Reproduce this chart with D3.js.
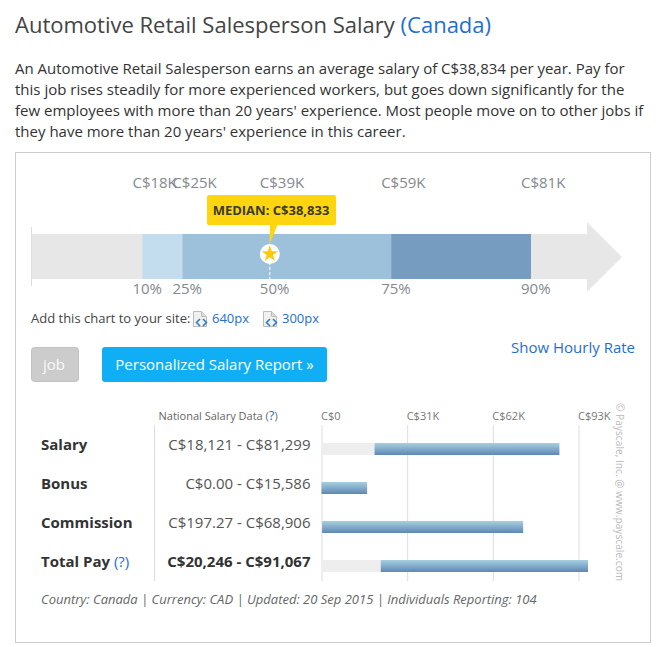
<!DOCTYPE html>
<html>
<head>
<meta charset="utf-8">
<script src="https://cdn.jsdelivr.net/npm/d3@7"></script>
<style>
    html, body { margin: 0; padding: 0; background: #fff; }
    svg { display: block; }
    text { font-family: "Open Sans", sans-serif; }
    .link { fill: #1f6fcf; }
</style>
</head>
<body>
<div id="chart"></div>
<script>

// range chart
var percentiles = ["10%", "25%", "50%", "75%", "90%"];
var percentile_values = [18121, 24618, 38833, 58563, 81299];
var percentile_labels = ["C$18K", "C$25K", "C$39K", "C$59K", "C$81K"];
var segment_colors = ["#c3ddef", "#9dc1db", "#9dc1db", "#769dbf"];

// table chart
var rows = ["Salary", "Bonus", "Commission", "Total Pay"];
var low_values = [18121, 0, 197.27, 20246];
var high_values = [81299, 15586, 68906, 91067];
var range_labels = ["C$18,121 - C$81,299", "C$0.00 - C$15,586", "C$197.27 - C$68,906", "C$20,246 - C$91,067"];
var axis_ticks = [0, 31000, 62000, 93000];

var intro_lines = [
    "An Automotive Retail Salesperson earns an average salary of C$38,834 per year. Pay for",
    "this job rises steadily for more experienced workers, but goes down significantly for the",
    "few employees with more than 20 years' experience. Most people move on to other jobs if",
    "they have more than 20 years' experience in this career."
];

const width = 663, height = 647;

const svg = d3.select("#chart")
    .append("svg")
    .attr("width", width)
    .attr("height", height);

var grad = svg.append("defs").append("linearGradient")
    .attr("id", "bar-grad")
    .attr("x1", 0).attr("x2", 0).attr("y1", 0).attr("y2", 1);
grad.append("stop").attr("offset", "0%").attr("stop-color", "#a6d0e1");
grad.append("stop").attr("offset", "100%").attr("stop-color", "#5f87b4");

// heading
var title = svg.append("text")
    .attr("x", 15).attr("y", 33)
    .style("font-size", "22px")
    .style("fill", "#444");
title.append("tspan").text("Automotive Retail Salesperson Salary ");
title.append("tspan").attr("class", "link").text("(Canada)");

svg.selectAll("text.intro")
    .data(intro_lines)
    .enter()
    .append("text")
    .attr("class", "intro")
    .attr("x", 15)
    .attr("y", function (d, i) { return 73.5 + i * 21.1; })
    .style("font-size", "15px")
    .style("fill", "#333")
    .text(function (d) { return d; });

svg.append("rect")
    .attr("x", 15.5).attr("y", 152.5)
    .attr("width", 635).attr("height", 490)
    .style("fill", "none")
    .style("stroke", "#ccc");

// range chart
var xRange = d3.scaleLinear().domain([0, 100000]).range([31, 646]);
const bar_top = 234, bar_bottom = 279;

var shaft_end = xRange(90400), tip = xRange(96100);
svg.append("path")
    .attr("d", d3.line()([
        [xRange(0), bar_top], [shaft_end, bar_top], [shaft_end, 222], [tip, 257],
        [shaft_end, 292], [shaft_end, bar_bottom], [xRange(0), bar_bottom]
    ]))
    .style("fill", "#e7e7e7");

svg.append("line")
    .attr("x1", xRange(0) + 0.5).attr("x2", xRange(0) + 0.5)
    .attr("y1", 227).attr("y2", 286)
    .style("stroke", "#ddd");

svg.selectAll("rect.segment")
    .data(segment_colors)
    .enter()
    .append("rect")
    .attr("class", "segment")
    .attr("x", function (d, i) { return xRange(percentile_values[i]); })
    .attr("y", bar_top)
    .attr("width", function (d, i) { return xRange(percentile_values[i + 1]) - xRange(percentile_values[i]); })
    .attr("height", bar_bottom - bar_top)
    .style("fill", function (d) { return d; });

svg.selectAll("text.pct-value")
    .data(percentile_labels)
    .enter()
    .append("text")
    .attr("class", "pct-value")
    .attr("x", function (d, i) { return xRange(percentile_values[i]) - 10; })
    .attr("y", 188)
    .style("font-size", "15px")
    .style("fill", "#85898f")
    .text(function (d) { return d; });

svg.selectAll("text.pct-label")
    .data(percentiles)
    .enter()
    .append("text")
    .attr("class", "pct-label")
    .attr("x", function (d, i) { return xRange(percentile_values[i]) - 10; })
    .attr("y", 294)
    .style("font-size", "15px")
    .style("fill", "#85898f")
    .text(function (d) { return d; });

// median marker
var median_x = xRange(percentile_values[2]);

svg.append("line")
    .attr("x1", median_x).attr("x2", median_x)
    .attr("y1", 262).attr("y2", 279)
    .style("stroke", "#fff")
    .style("stroke-dasharray", "3,2");

svg.append("rect")
    .attr("x", 207).attr("y", 195)
    .attr("width", 129).attr("height", 30)
    .attr("rx", 2)
    .style("fill", "#ffd510");

svg.append("path")
    .attr("d", d3.line()([[median_x, 224], [median_x + 8, 224], [median_x, 244]]))
    .style("fill", "#ffd510");

svg.append("text")
    .attr("x", 271).attr("y", 215)
    .attr("text-anchor", "middle")
    .style("font-size", "13px")
    .style("font-weight", "700")
    .style("fill", "#3b3b2a")
    .text("MEDIAN: C$38,833");

svg.append("circle")
    .attr("cx", median_x).attr("cy", 254)
    .attr("r", 10)
    .style("fill", "#fff");

svg.append("path")
    .attr("transform", "translate(" + median_x + ",254)")
    .attr("d", d3.symbol(d3.symbolStar).size(85)())
    .style("fill", "#ffc90b");

// embed links
svg.append("text")
    .attr("x", 31).attr("y", 323)
    .style("font-size", "13px")
    .style("fill", "#444")
    .text("Add this chart to your site:");

[[193, "640px"], [263, "300px"]].forEach(function (d) {
    var g = svg.append("g").attr("transform", "translate(" + d[0] + ",311)");
    g.append("path")
        .attr("d", "M0.5,0.5H8.5L13.5,5.5V15.5H0.5Z")
        .style("fill", "#f1f1f1")
        .style("stroke", "#bbb");
    g.append("path")
        .attr("d", "M8.5,0.5V5.5H13.5")
        .style("fill", "#ddd")
        .style("stroke", "#bbb");
    g.append("path")
        .attr("d", "M7,8L3.5,11.5L7,15M10,8L13.5,11.5L10,15")
        .style("fill", "none")
        .style("stroke", "#2a7fc8")
        .style("stroke-width", 1.6);
    svg.append("text")
        .attr("class", "link")
        .attr("x", d[0] + 19).attr("y", 323)
        .style("font-size", "13px")
        .text(d[1]);
});

// buttons
svg.append("rect")
    .attr("x", 31.5).attr("y", 347.5)
    .attr("width", 47).attr("height", 34)
    .attr("rx", 3)
    .style("fill", "#ccc")
    .style("stroke", "#c2c2c2");

svg.append("text")
    .attr("x", 54).attr("y", 370)
    .attr("text-anchor", "middle")
    .style("font-size", "15px")
    .style("fill", "#fafafa")
    .text("job");

svg.append("rect")
    .attr("x", 102).attr("y", 347)
    .attr("width", 225).attr("height", 35)
    .attr("rx", 3)
    .style("fill", "#10aff5");

svg.append("text")
    .attr("x", 214.5).attr("y", 370)
    .attr("text-anchor", "middle")
    .style("font-size", "15px")
    .style("fill", "#fff")
    .text("Personalized Salary Report »");

svg.append("text")
    .attr("class", "link")
    .attr("x", 635).attr("y", 353)
    .attr("text-anchor", "end")
    .style("font-size", "15px")
    .text("Show Hourly Rate");

// table chart
var yRow = d3.scaleBand()
    .domain(rows)
    .range([443, 572])
    .paddingInner(27 / 39)
    .paddingOuter(0);

var xBar = d3.scaleLinear().domain([0, 91067]).range([321.5, 588]);
var xAxis = d3.scaleLinear().domain([0, 93000]).range([321.5, 578.5]);

svg.append("text")
    .attr("x", 158.5).attr("y", 419.5)
    .style("font-size", "11px")
    .style("fill", "#666")
    .html('National Salary Data (<tspan class="link" style="font-size:13px">?</tspan>)');

svg.append("line")
    .attr("x1", 154.5).attr("x2", 154.5)
    .attr("y1", 425).attr("y2", 581)
    .style("stroke", "#ddd");

var axis_g = svg.append("g")
    .attr("transform", "translate(0,425)")
    .call(d3.axisTop(xAxis)
        .tickValues(axis_ticks)
        .tickSize(-156)
        .tickFormat(function (d) { return d === 0 ? "C$0" : "C$" + (d / 1000) + "K"; }));

axis_g.select(".domain").remove();
axis_g.selectAll(".tick line").style("stroke", "#ddd");
axis_g.selectAll(".tick text")
    .attr("x", -1)
    .attr("y", -5)
    .attr("dy", 0)
    .attr("text-anchor", "start")
    .style("font-family", '"Open Sans", sans-serif')
    .style("font-size", "11px")
    .style("fill", "#777");

svg.selectAll("rect.track")
    .data(rows)
    .enter()
    .append("rect")
    .attr("class", "track")
    .attr("x", xBar(0))
    .attr("y", function (d) { return yRow(d); })
    .attr("width", function (d, i) { return xBar(low_values[i]) - xBar(0); })
    .attr("height", yRow.bandwidth())
    .style("fill", "#eeeeee");

svg.selectAll("rect.range")
    .data(rows)
    .enter()
    .append("rect")
    .attr("class", "range")
    .attr("x", function (d, i) { return xBar(low_values[i]); })
    .attr("y", function (d) { return yRow(d); })
    .attr("width", function (d, i) { return xBar(high_values[i]) - xBar(low_values[i]); })
    .attr("height", yRow.bandwidth())
    .style("fill", "url(#bar-grad)");

var row_text = svg.selectAll("text.row-name")
    .data(rows)
    .enter()
    .append("text")
    .attr("class", "row-name")
    .attr("x", 41)
    .attr("y", function (d) { return yRow(d) + 7; })
    .style("font-size", "15px")
    .style("font-weight", "700")
    .style("fill", "#333")
    .text(function (d) { return d; });

row_text.filter(function (d) { return d === "Total Pay"; })
    .append("tspan")
    .attr("class", "link")
    .style("font-weight", "400")
    .text(" (?)");

svg.selectAll("text.row-range")
    .data(range_labels)
    .enter()
    .append("text")
    .attr("class", "row-range")
    .attr("x", 310.5)
    .attr("y", function (d, i) { return yRow(rows[i]) + 7; })
    .attr("text-anchor", "end")
    .style("font-size", "15px")
    .style("font-weight", function (d, i) { return rows[i] === "Total Pay" ? "700" : "400"; })
    .style("fill", function (d, i) { return rows[i] === "Total Pay" ? "#333" : "#555"; })
    .text(function (d) { return d; });

svg.append("text")
    .attr("x", 41).attr("y", 604)
    .style("font-size", "13px")
    .style("font-style", "italic")
    .style("fill", "#666")
    .text("Country: Canada | Currency: CAD | Updated: 20 Sep 2015 | Individuals Reporting: 104");

svg.append("text")
    .attr("transform", "translate(616,403) rotate(90)")
    .style("font-size", "10.2px")
    .style("fill", "#bbb")
    .text("© Payscale, Inc. @ www.payscale.com");

</script>
</body>
</html>
